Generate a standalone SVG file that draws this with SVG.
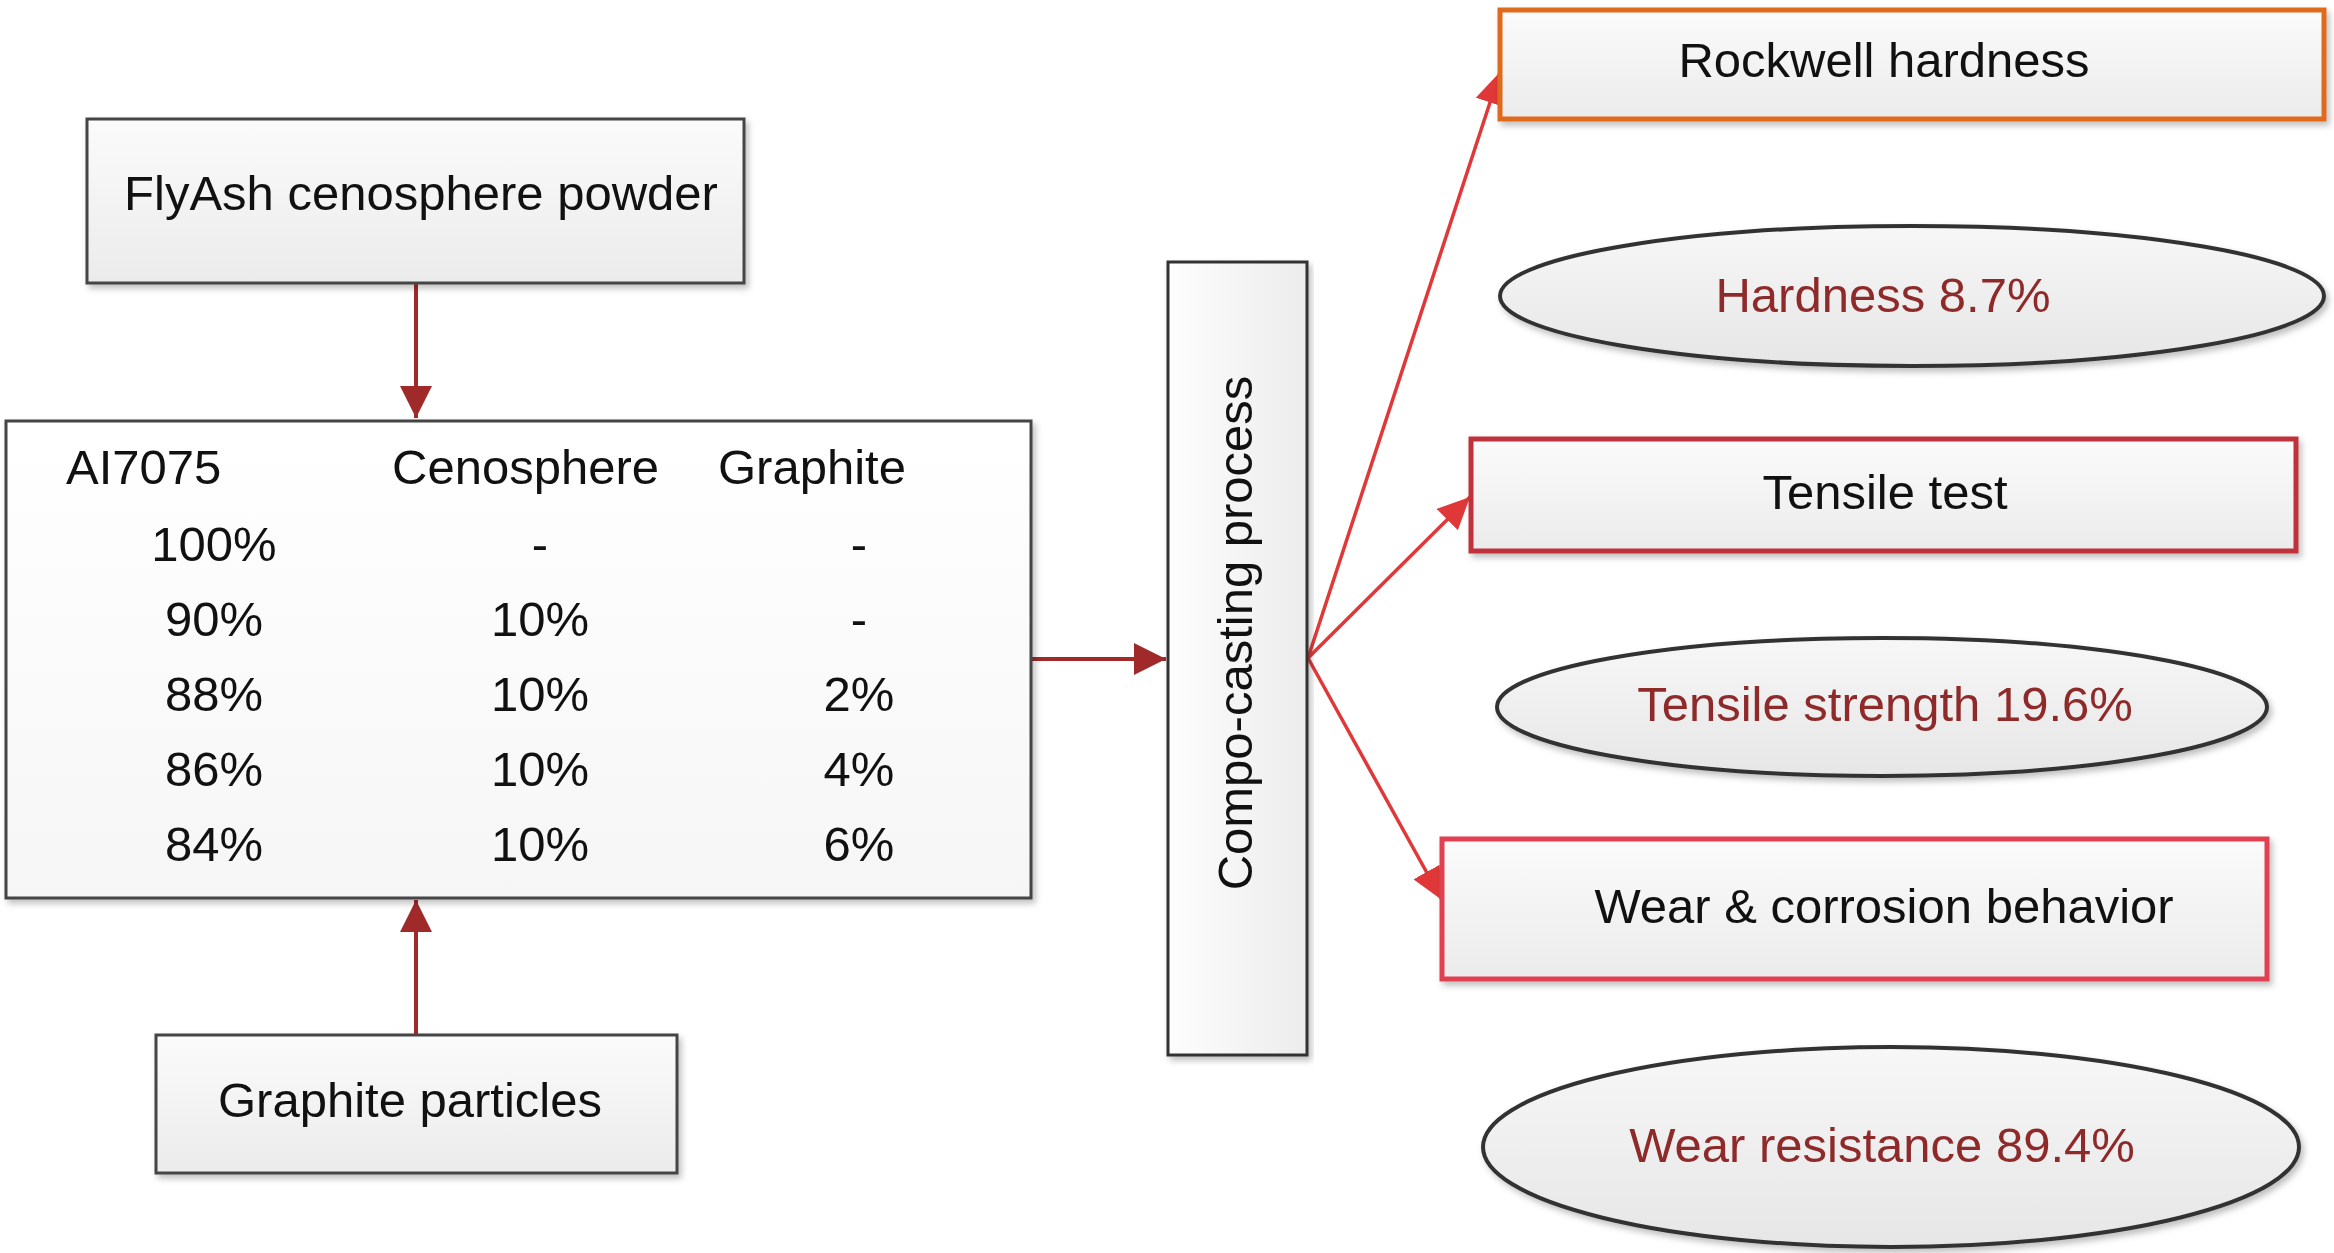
<svg xmlns="http://www.w3.org/2000/svg" width="2334" height="1253" viewBox="0 0 2334 1253">
<style>
text{font-family:"Liberation Sans",Arial,sans-serif;font-size:49px;fill:#111}
.red{fill:#8f2a2a}
.box{stroke:#444;stroke-width:3;fill:url(#gbox);filter:url(#sh)}
.ell{stroke:#333;stroke-width:4;fill:url(#gell);filter:url(#sh)}
.dk{stroke:#a02a2a;stroke-width:4;fill:none}
.br{stroke:#e03838;stroke-width:3.5;fill:none}
</style>
<defs>
<linearGradient id="gbox" x1="0" y1="0" x2="0" y2="1"><stop offset="0" stop-color="#fbfbfb"/><stop offset="1" stop-color="#ebebeb"/></linearGradient>
<linearGradient id="gwhite" x1="0" y1="0" x2="0" y2="1"><stop offset="0" stop-color="#ffffff"/><stop offset="1" stop-color="#f6f6f6"/></linearGradient>
<linearGradient id="gcomp" x1="0" y1="0" x2="1" y2="0"><stop offset="0" stop-color="#fdfdfd"/><stop offset="1" stop-color="#ececec"/></linearGradient>
<linearGradient id="gell" x1="0" y1="0" x2="0" y2="1"><stop offset="0" stop-color="#f7f7f7"/><stop offset="1" stop-color="#e6e6e6"/></linearGradient>
<filter id="sh" x="-5%" y="-10%" width="110%" height="125%"><feDropShadow dx="3" dy="4" stdDeviation="3" flood-color="#000" flood-opacity="0.25"/></filter>
<marker id="ad" markerUnits="userSpaceOnUse" markerWidth="32" markerHeight="32" refX="32" refY="16" orient="auto"><path d="M0,0 L32,16 L0,32 z" fill="#a02a2a"/></marker>
<marker id="ab" markerUnits="userSpaceOnUse" markerWidth="32" markerHeight="30" refX="32" refY="15" orient="auto"><path d="M0,0 L32,15 L0,30 z" fill="#e03838"/></marker>
</defs>

<g id="connectors">
<line class="dk" x1="416" y1="284" x2="416" y2="418" marker-end="url(#ad)"/>
<line class="dk" x1="416" y1="1034" x2="416" y2="900" marker-end="url(#ad)"/>
<line class="dk" x1="1032" y1="659" x2="1166" y2="659" marker-end="url(#ad)"/>
<line class="br" x1="1308" y1="658" x2="1500" y2="72" marker-end="url(#ab)"/>
<line class="br" x1="1308" y1="658" x2="1470" y2="497" marker-end="url(#ab)"/>
<line class="br" x1="1308" y1="658" x2="1442" y2="900" marker-end="url(#ab)"/>
</g>

<g id="flyash">
<rect class="box" x="87" y="119" width="657" height="164"/>
<text x="421" y="210" text-anchor="middle">FlyAsh cenosphere powder</text>
</g>

<g id="table">
<rect class="box" x="6" y="421" width="1025" height="477" style="fill:url(#gwhite)"/>
<text x="66" y="484">AI7075</text>
<text x="392" y="484">Cenosphere</text>
<text x="718" y="484">Graphite</text>
<g text-anchor="middle">
<text x="214" y="561">100%</text><text x="540" y="561">-</text><text x="859" y="561">-</text>
<text x="214" y="636">90%</text><text x="540" y="636">10%</text><text x="859" y="636">-</text>
<text x="214" y="711">88%</text><text x="540" y="711">10%</text><text x="859" y="711">2%</text>
<text x="214" y="786">86%</text><text x="540" y="786">10%</text><text x="859" y="786">4%</text>
<text x="214" y="861">84%</text><text x="540" y="861">10%</text><text x="859" y="861">6%</text>
</g>
</g>

<g id="graphite">
<rect class="box" x="156" y="1035" width="521" height="138"/>
<text x="410" y="1117" text-anchor="middle">Graphite particles</text>
</g>

<g id="compo">
<rect class="box" x="1168" y="262" width="139" height="793" style="fill:url(#gcomp);stroke:#333"/>
<text transform="translate(1252,633) rotate(-90)" x="0" y="0" text-anchor="middle" font-size="50">Compo-casting process</text>
</g>

<g id="rockwell">
<rect class="box" x="1500" y="10" width="824" height="109" style="stroke:#e06a1e;stroke-width:5"/>
<text x="1884" y="77" text-anchor="middle">Rockwell hardness</text>
</g>

<g id="hardness">
<ellipse class="ell" cx="1912" cy="296" rx="412" ry="70"/>
<text class="red" x="1883" y="312" text-anchor="middle">Hardness 8.7%</text>
</g>

<g id="tensile-test">
<rect class="box" x="1471" y="439" width="825" height="112" style="stroke:#c0303a;stroke-width:5"/>
<text x="1885" y="509" text-anchor="middle">Tensile test</text>
</g>

<g id="tensile-strength">
<ellipse class="ell" cx="1882" cy="707" rx="385" ry="69"/>
<text class="red" x="1885" y="721" text-anchor="middle">Tensile strength 19.6%</text>
</g>

<g id="wear-corrosion">
<rect class="box" x="1442" y="839" width="825" height="140" style="stroke:#e04050;stroke-width:5"/>
<text x="1884" y="923" text-anchor="middle">Wear &amp; corrosion behavior</text>
</g>

<g id="wear-resistance">
<ellipse class="ell" cx="1891" cy="1147" rx="408" ry="100"/>
<text class="red" x="1882" y="1162" text-anchor="middle">Wear resistance 89.4%</text>
</g>
</svg>
